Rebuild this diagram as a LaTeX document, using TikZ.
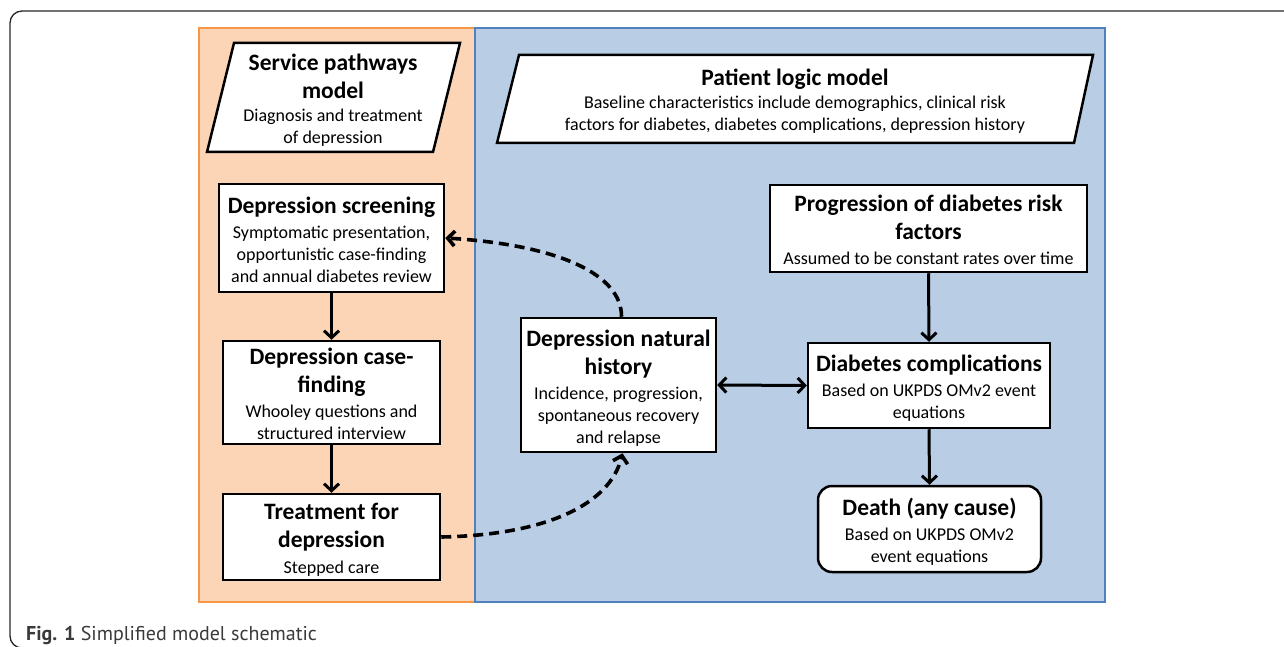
\documentclass[tikz,border=0pt]{standalone}
\usepackage{fontspec}
\setmainfont{Carlito}
\newfontfamily\capfont{PT Sans}
\usetikzlibrary{arrows.meta}
\definecolor{orfill}{HTML}{FBD5B5}
\definecolor{ordraw}{HTML}{F79646}
\definecolor{blfill}{HTML}{B9CDE5}
\definecolor{bldraw}{HTML}{4F81BD}
\definecolor{capgray}{HTML}{3A3A3A}
\newcommand{\ttl}[1]{{\fontsize{23.5}{27}\selectfont\bfseries #1}}
\begin{document}
\begin{tikzpicture}[x=1pt,y=-1pt,
  box/.style={draw=black, line width=2.5pt, fill=white, inner sep=0pt},
  txt/.style={align=center, inner sep=0pt, font=\fontsize{18}{22}\selectfont},
  para/.style={draw=black, line width=2.5pt, fill=white, line join=miter},
  flow/.style={line width=3pt, -{Straight Barb[length=7pt,width=15pt]}},
  dflow/.style={line width=3.6pt, dash pattern=on 10pt off 6pt, -{Straight Barb[length=7pt,width=15pt]}}]
\useasboundingbox (0,0) rectangle (1284,647);
\clip (0,0) rectangle (1284,647);
% outer frame
\draw[line width=1.3pt, draw=black!85, rounded corners=12pt] (1300,648) -- (10,648) -- (10,11) -- (1300,11);
% panels
\draw[fill=orfill, draw=ordraw, line width=2.2pt] (199,28) rectangle (475,602);
\draw[fill=blfill, draw=bldraw, line width=2.2pt] (475,28) rectangle (1105,602);
% parallelograms
\draw[para] (234,43) -- (460,43) -- (433,152) -- (207,152) -- cycle;
\node[txt] (spm) at (333,100) {\ttl{Service pathways}\\[6pt]\ttl{model}\\[1.5pt]Diagnosis and treatment\\of depression};
\draw[para] (519,55) -- (1093,55) -- (1074,143) -- (497,143) -- cycle;
\node[txt] (plm) at (795,101) {\ttl{Patient logic model}\\[1pt]Baseline characteristics include demographics, clinical risk\\factors for diabetes, diabetes complications, depression history};
% boxes
\node[box, minimum width=225pt, minimum height=108pt] (scr) at (331.5,238) {};
\node[txt] (scrT) at ([yshift=-1.5pt]scr.center)
  {\ttl{Depression screening}\\[3pt]Symptomatic presentation,\\opportunistic case-finding\\and annual diabetes review};
\node[box, minimum width=217pt, minimum height=103pt] (cf) at (331.5,392.5) {};
\node[txt] (cfT) at ([yshift=-1.5pt]cf.center)
  {\ttl{Depression case-}\\[6pt]\ttl{finding}\\[3pt]Whooley questions and\\structured interview};
\node[box, minimum width=217pt, minimum height=86pt] (tr) at (331.5,537) {};
\node[txt] (trT) at ([yshift=-3pt]tr.center)
  {\ttl{Treatment for}\\[6pt]\ttl{depression}\\[4pt]Stepped care};
\node[box, minimum width=195pt, minimum height=134pt] (nh) at (618.5,385) {};
\node[txt] (nhT) at ([yshift=-3pt]nh.center)
  {\ttl{Depression natural}\\[6pt]\ttl{history}\\[3.5pt]Incidence, progression,\\spontaneous recovery\\and relapse};
\node[box, minimum width=317pt, minimum height=87pt] (prog) at (928.5,228.5) {};
\node[txt] (progT) at ([yshift=-1.5pt]prog.center)
  {\ttl{Progression of diabetes risk}\\[6pt]\ttl{factors}\\[3pt]Assumed to be constant rates over time};
\node[box, minimum width=242pt, minimum height=85pt] (dc) at (929,385.5) {};
\node[txt] (dcT) at ([yshift=-2.5pt]dc.center)
  {\ttl{Diabetes complications}\\[3pt]Based on UKPDS OMv2 event\\equations};
\node[box, rounded corners=14pt, minimum width=223pt, minimum height=86pt] (death) at (929.5,529) {};
\node[txt] (deathT) at ([yshift=-2.5pt]death.center)
  {\ttl{Death (any cause)}\\[3pt]Based on UKPDS OMv2\\event equations};
% connectors
\draw[flow] (scr.south) -- (cf.north);
\draw[flow] (cf.south) -- (tr.north);
\draw[flow] (prog.south) -- (dc.north);
\draw[flow] (dc.south) -- (death.north);
\draw[line width=3pt, {Straight Barb[length=7pt,width=15pt]}-{Straight Barb[length=7pt,width=15pt]}] (nh.east) -- (dc.west);
\draw[dflow] ([xshift=3pt]nh.north) .. controls (622,275) and (560,245) .. (scr.east);
\draw[dflow] (tr.east) .. controls (545,535) and (610,505) .. ([xshift=4pt]nh.south);
% caption
\node[anchor=base west, inner sep=0pt, text=capgray, font=\capfont\fontsize{20}{22}\selectfont] (cap) at (26,640)
  {\textbf{Fig. 1} Simplified model schematic};
\end{tikzpicture}
\end{document}
